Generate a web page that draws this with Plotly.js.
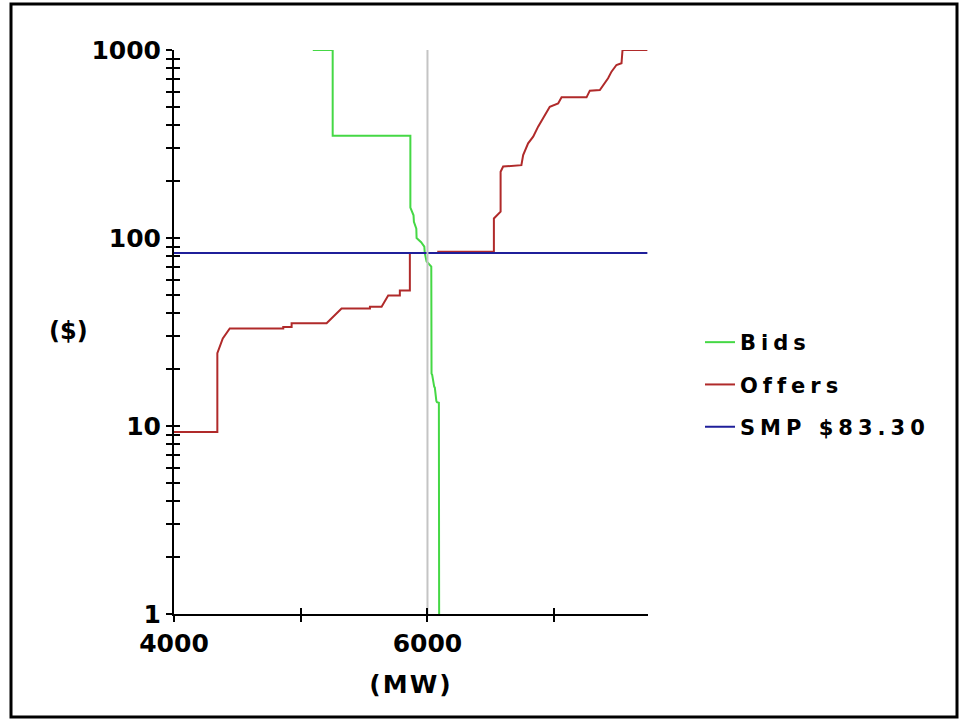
<!DOCTYPE html>
<html>
<head>
<meta charset="utf-8">
<script src="https://cdn.plot.ly/plotly-3.0.1.min.js"></script>
<style>
  html, body { margin: 0; padding: 0; background: #fff; }
  #chart { width: 966px; height: 724px; }
  .legendtext { letter-spacing: 5px; }
  .xtitle { letter-spacing: 2px; }
</style>
</head>
<body>
<div id="chart"></div>
<script>
// ---- data ----
const bidsMW    = [5095, 5252, 5252, 5865, 5865, 5890, 5893, 5912, 5914, 5950, 5975, 5979, 5993, 6030, 6032, 6037, 6053, 6058, 6070, 6075, 6090, 6092];
const bidsPrice = [1000, 1000, 350, 350, 145, 132, 122, 112, 100, 95, 90, 83, 75, 70.5, 19, 18.7, 16.2, 16, 13.6, 13.4, 13.3, 1];

const offersMW    = [4000, 4342, 4342, 4360, 4385, 4440, 4862, 4862, 4928, 4928, 5204, 5322, 5546, 5546, 5638, 5690, 5782, 5782, 5861, 5861, 6085, 6085, 6524, 6524, 6558, 6577, 6577, 6597, 6741, 6755, 6794, 6834, 6873, 6912, 6965, 7031, 7058, 7255, 7281, 7360, 7425, 7452, 7491, 7531, 7539, 7735];
const offersPrice = [9.3, 9.3, 24.4, 26.4, 29.2, 33.0, 33.0, 33.6, 33.6, 35.2, 35.2, 42.2, 42.2, 43.1, 43.1, 49.4, 49.4, 52.6, 52.6, 83.3, 83.3, 84.6, 84.6, 127, 135, 138, 225, 240, 244, 276, 319, 346, 391, 433, 499, 520, 560, 560, 608, 613, 707, 767, 832, 850, 1000, 1000];

const smpPrice = 83.30;
const smpMW = [4000, 7735];
const clearingMW = 6000;

const xRange = [4000, 7740];
const yDecades = [1, 10, 100, 1000];
const xTickVals = [4000, 5000, 6000, 7000];
const xTickText = ['4000', '', '6000', ''];

// log-axis ticks: every 1..9 within each decade, labels only at decades
const yTickVals = [];
const yTickText = [];
for (let d = 0; d < yDecades.length; d++) {
  const base = yDecades[d];
  const top = d === yDecades.length - 1 ? 1 : 9;
  for (let m = 1; m <= top; m++) {
    yTickVals.push(base * m);
    yTickText.push(m === 1 ? String(base) : '');
  }
}

const FONT = 'DejaVu Sans, Verdana, sans-serif';

const traces = [
  { // reference line at the clearing quantity (drawn on overlay axes, under everything)
    x: [clearingMW, clearingMW], y: [yDecades[0], yDecades[yDecades.length - 1]],
    xaxis: 'x2', yaxis: 'y2',
    mode: 'lines', line: { color: '#c4c4c4', width: 2 },
    showlegend: false, hoverinfo: 'skip'
  },
  {
    x: bidsMW, y: bidsPrice, name: 'Bids', legendgroup: 'a',
    mode: 'lines', line: { color: '#45d845', width: 2 }
  },
  {
    x: offersMW, y: offersPrice, name: 'Offers', legendgroup: 'b',
    mode: 'lines', line: { color: '#b02a2a', width: 2 }
  },
  {
    x: smpMW, y: smpMW.map(() => smpPrice), name: 'SMP $' + smpPrice.toFixed(2), legendgroup: 'c',
    mode: 'lines', line: { color: '#1f1f9a', width: 2 }
  }
];

const plotL = 174, plotR = 648, plotT = 50, plotB = 614;
const pw = plotR - plotL, ph = plotB - plotT;
const px = v => (v - plotL) / pw;
const py = v => (plotB - v) / ph;

const tickFont = { family: FONT, size: 25, color: '#000', weight: 700 };

const layout = {
  width: 966, height: 724,
  paper_bgcolor: '#fff', plot_bgcolor: '#fff',
  margin: { l: plotL, r: 966 - plotR, t: plotT, b: 724 - plotB, pad: 0 },
  showlegend: true,
  hovermode: false,
  xaxis: {
    type: 'linear', range: xRange, showgrid: false, zeroline: false,
    showline: true, linecolor: '#000', linewidth: 2,
    ticks: 'outside', ticklen: 6, tickwidth: 2, tickcolor: '#000',
    tickmode: 'array', tickvals: xTickVals, ticktext: xTickText,
    tickfont: tickFont,
    title: { text: '(MW)', font: { family: FONT, size: 25, color: '#000', weight: 700 }, standoff: 18 }
  },
  yaxis: {
    type: 'log', range: [0, 3], showgrid: false, zeroline: false,
    showline: true, linecolor: '#000', linewidth: 2,
    ticks: 'outside', ticklen: 6, tickwidth: 2, tickcolor: '#000',
    tickmode: 'array', tickvals: yTickVals, ticktext: yTickText,
    tickfont: tickFont
  },
  xaxis2: {
    type: 'linear', range: xRange, overlaying: 'x', anchor: 'y2', side: 'bottom',
    showgrid: false, zeroline: false, showline: false,
    ticks: 'inside', ticklen: 6, tickwidth: 2, tickcolor: '#000',
    tickmode: 'array', tickvals: xTickVals, showticklabels: false
  },
  yaxis2: {
    type: 'log', range: [0, 3], overlaying: 'y', anchor: 'x2', side: 'left',
    showgrid: false, zeroline: false, showline: false,
    ticks: 'inside', ticklen: 6, tickwidth: 2, tickcolor: '#000',
    tickmode: 'array', tickvals: yTickVals, showticklabels: false
  },
  legend: {
    x: px(700), y: py(322), xanchor: 'left', yanchor: 'top',
    bgcolor: 'rgba(0,0,0,0)', borderwidth: 0,
    traceorder: 'grouped', tracegroupgap: 12,
    itemwidth: 30,
    font: { family: FONT, size: 21, color: '#000', weight: 700 }
  },
  annotations: [{
    text: '($)', xref: 'paper', yref: 'paper', x: px(68), y: py(331),
    xanchor: 'center', yanchor: 'middle', showarrow: false,
    font: { family: FONT, size: 24, color: '#000', weight: 700 }
  }],
  shapes: [{
    type: 'rect', xref: 'paper', yref: 'paper',
    x0: px(11), x1: px(957), y0: py(717), y1: py(4),
    line: { color: '#000', width: 3 }, fillcolor: 'rgba(0,0,0,0)', layer: 'above'
  }]
};

Plotly.newPlot('chart', traces, layout, { displayModeBar: false, staticPlot: true });
</script>
</body>
</html>
